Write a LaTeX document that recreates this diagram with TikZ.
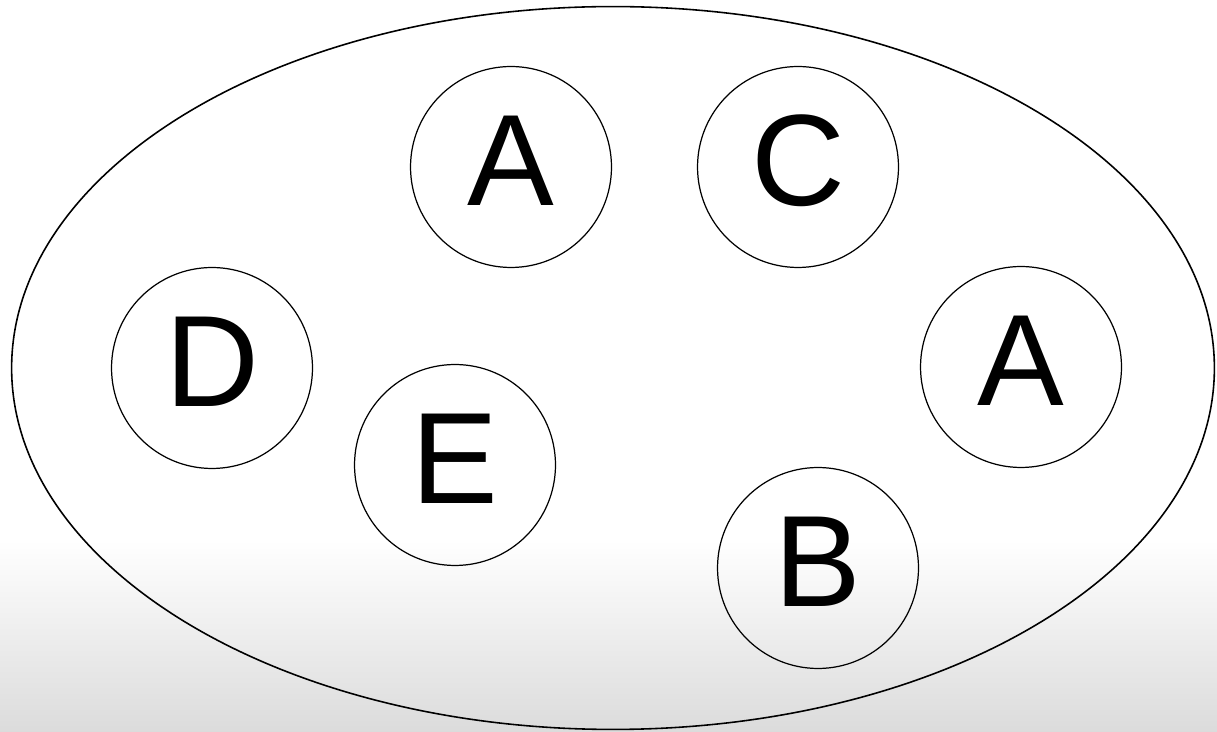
\documentclass[tikz,border=0pt]{standalone}
\usepackage{fontspec}
\setmainfont{Liberation Sans}
\usetikzlibrary{shapes.geometric}

\begin{document}
\begin{tikzpicture}[x=0.02cm, y=-0.02cm,
  member/.style={draw, circle, line width=0.7pt, minimum size=4.02cm, inner sep=0pt,
    text depth=0.26cm, font=\fontsize{74}{74}\selectfont}]
  \useasboundingbox (0,0) rectangle (1217,732);
  \shade[top color=white, bottom color=black!14] (0,540) rectangle (1217,732);
  \node[draw, ellipse, line width=0.9pt, minimum width=24.06cm, minimum height=14.46cm,
    inner sep=0pt] (set) at (613,368) {};
  \node[member] (a1) at (511,167) {A};
  \node[member] (c) at (798,167) {C};
  \node[member] (d) at (212,368) {D};
  \node[member] (e) at (455,465) {E};
  \node[member] (a2) at (1021,367) {A};
  \node[member] (b) at (818,568) {B};
\end{tikzpicture}
\end{document}
